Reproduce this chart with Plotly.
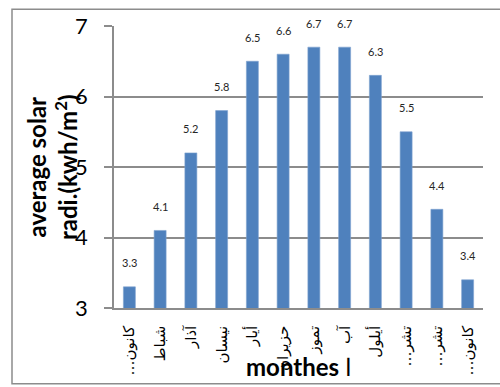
import plotly.graph_objects as go

# Monthly average solar radiation (kWh/m²)
months = ["كانون الثاني", "شباط", "آذار", "نيسان", "أيار", "حزيران",
          "تموز", "آب", "أيلول", "تشرين الأول", "تشرين الثاني", "كانون الأول"]
month_ticks = ["كانون…", "شباط", "آذار", "نيسان", "أيار", "حزيران",
               "تموز", "آب", "أيلول", "تشر…", "تشر…", "كانون…"]
solar = [3.3, 4.1, 5.2, 5.8, 6.5, 6.6, 6.7, 6.7, 6.3, 5.5, 4.4, 3.4]
y_ticks = [3, 4, 5, 6, 7]

GRID = "#8c8c8c"
BAR = "#4f81bd"
RLM = "\u200f"  # keeps trailing ellipsis on the right-to-left side

W, H = 500, 387
L, R, T, B = 114, 17, 21, 79
pw, ph = W - L - R, H - T - B


def px_x(x):
    return (x - L) / pw


def px_y(y):
    return (H - B - y) / ph


fig = go.Figure(
    go.Bar(
        x=months,
        y=solar,
        marker=dict(color=BAR, line=dict(color="#7fa3d0", width=0.6)),
        width=0.39,
        hoverinfo="x+y",
    )
)

# value labels above each bar
for m, v in zip(months, solar):
    fig.add_annotation(
        x=m, y=v, text=f"{v:.1f}", showarrow=False,
        yanchor="middle", yshift=24,
        font=dict(family="Lato", size=11, color="#262626"),
    )

# axis titles
fig.add_annotation(
    xref="paper", yref="paper", x=px_x(52), y=0.5,
    text="<b>average solar<br>radi.(kwh/m<sup>2</sup>)</b>",
    textangle=-90, showarrow=False, xanchor="center", yanchor="middle",
    font=dict(family="Lato", size=24, color="#000000"),
)
fig.add_annotation(
    xref="paper", yref="paper", x=0.5, y=px_y(368),
    text="<b>monthes</b> ا", showarrow=False,
    xanchor="center", yanchor="middle",
    font=dict(family="Lato", size=24, color="#000000"),
)

# outer chart border
fig.add_shape(
    type="rect", xref="paper", yref="paper",
    x0=px_x(12), x1=px_x(510), y0=px_y(385), y1=px_y(4),
    line=dict(color=GRID, width=1.5), layer="below",
)

fig.update_layout(
    width=W, height=H,
    margin=dict(l=L, r=R, t=T, b=B),
    paper_bgcolor="white", plot_bgcolor="white",
    showlegend=False,
    xaxis=dict(
        tickvals=months, ticktext=[t + RLM for t in month_ticks],
        tickangle=-90, ticks="", showgrid=False,
        showline=True, linecolor=GRID, linewidth=1.5,
        tickfont=dict(family="DejaVu Sans", size=15, color="#000000"),
        ticklabelstandoff=10,
    ),
    yaxis=dict(
        range=[3, 7], tickvals=y_ticks,
        showgrid=True, gridcolor=GRID, gridwidth=1.5,
        showline=True, linecolor=GRID, linewidth=1.5,
        ticks="outside", ticklen=8, tickcolor=GRID, tickwidth=1.5,
        tickfont=dict(family="Lato", size=22, color="#000000"),
        ticklabelstandoff=12,
        zeroline=False,
    ),
)

fig.write_html("out.html")
